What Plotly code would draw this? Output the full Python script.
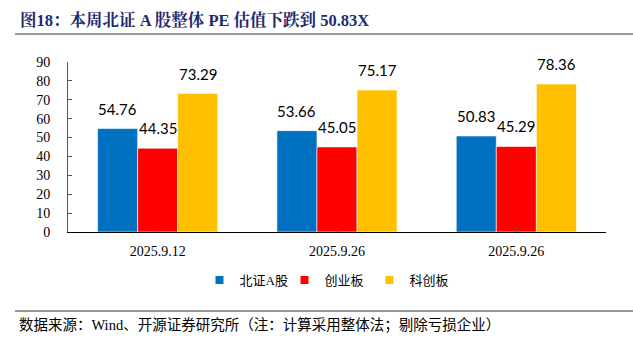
import plotly.graph_objects as go

categories = ["2025.9.12", "2025.9.26", "2025.9.26"]
series_names = ["北证A股", "创业板", "科创板"]
bz_values = [54.76, 53.66, 50.83]
cy_values = [44.35, 45.05, 45.29]
kc_values = [73.29, 75.17, 78.36]
colors = ["#0070C0", "#FF0000", "#FFC000"]
y_ticks = [0, 10, 20, 30, 40, 50, 60, 70, 80, 90]

W, H = 633, 351
L, R, T, B = 68, 606, 62, 232  # plot area in pixels

def px(x):
    return (x - L) / (R - L)

def py(y):
    return (B - y) / (B - T)

xpos = list(range(len(categories)))
fig = go.Figure()
all_vals = [bz_values, cy_values, kc_values]
for name, vals, c in zip(series_names, all_vals, colors):
    fig.add_trace(go.Bar(
        x=xpos, y=vals, name=name, showlegend=False,
        marker=dict(color=c, line=dict(color="white", width=0.6)),
        offsetgroup=name,
    ))
# legend-only markers (small squares)
for name, c in zip(series_names, colors):
    fig.add_trace(go.Scatter(
        x=[None], y=[None], mode="markers", name=name,
        marker=dict(symbol="square", size=8, color=c),
    ))

# value labels above bars
n = len(series_names)
bar_w = (1 - 0.33) / n
for k, vals in enumerate(all_vals):
    for i, v in enumerate(vals):
        fig.add_annotation(
            x=i - (1 - 0.33) / 2 + bar_w * (k + 0.5), y=v, xref="x", yref="y",
            text=f"{v:.2f}", showarrow=False, yanchor="bottom", yshift=9,
            font=dict(family="Lato, Carlito, sans-serif", size=15, color="black"),
        )

fig.update_layout(
    width=W, height=H,
    margin=dict(l=L, r=W - R, t=T, b=H - B),
    paper_bgcolor="white", plot_bgcolor="white",
    barmode="group", bargap=0.33, bargroupgap=0,
    showlegend=True,
    legend=dict(orientation="h", x=px(327), xanchor="center", y=py(280), yanchor="middle",
                font=dict(family="Liberation Serif, Noto Sans CJK SC", size=13, color="black"),
                itemwidth=30, entrywidth=40, traceorder="normal"),
    title=dict(text="<b>图18：本周北证 A 股整体 PE 估值下跌到 50.83X</b>",
               x=20 / W, xanchor="left", y=1 - 20 / H, yanchor="middle",
               xref="container", yref="container",
               font=dict(family="Liberation Serif, Noto Serif CJK SC, Noto Sans CJK SC", size=16.5, color="#1F2A6E")),
    font=dict(family="Liberation Serif, Noto Sans CJK SC", color="black"),
)

fig.update_xaxes(
    tickmode="array", tickvals=xpos, ticktext=categories,
    range=[-0.5, 2.5], showline=True, linecolor="black", linewidth=1,
    ticks="inside", tickson="boundaries", ticklen=4, tickcolor="#555",
    showgrid=False, zeroline=False, ticklabelstandoff=6,
    tickfont=dict(family="Liberation Serif", size=14, color="black"),
)
fig.update_yaxes(
    range=[0, 90], tickmode="array", tickvals=y_ticks,
    showline=True, linecolor="#555", linewidth=1,
    ticks="inside", ticklen=4, tickcolor="#555",
    showgrid=False, zeroline=False, ticklabelstandoff=14,
    tickfont=dict(family="Liberation Serif", size=14, color="black"),
)

fig.add_shape(type="line", xref="paper", yref="paper",
              x0=px(15), x1=px(633), y0=py(34), y1=py(34),
              line=dict(color="#999999", width=2))
fig.add_shape(type="line", xref="paper", yref="paper",
              x0=px(15), x1=px(633), y0=py(311), y1=py(311),
              line=dict(color="#333333", width=1))
fig.add_annotation(text="数据来源：Wind、开源证券研究所（注：计算采用整体法；剔除亏损企业）",
                   xref="paper", yref="paper", x=px(17), y=py(325),
                   xanchor="left", yanchor="middle", showarrow=False,
                   font=dict(family="Liberation Serif, Noto Sans CJK SC", size=14.5, color="black"))

fig.write_html("out.html")
